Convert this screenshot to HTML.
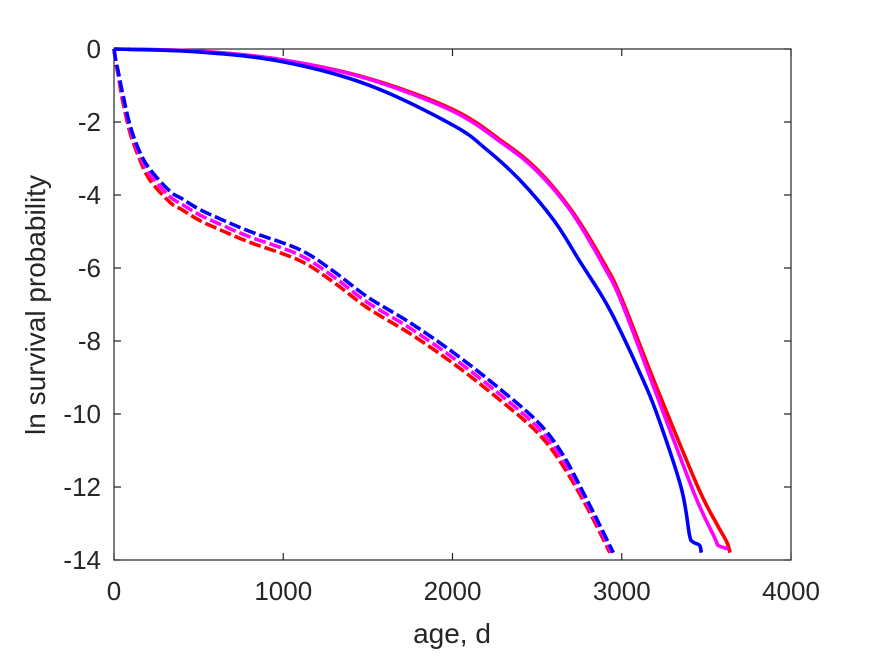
<!DOCTYPE html>
<html><head><meta charset="utf-8"><style>
body{margin:0;background:#fff;}
svg text{font-family:"Liberation Sans",sans-serif;fill:#262626;}
</style></head><body>
<svg width="875" height="656" viewBox="0 0 875 656">
<rect width="875" height="656" fill="#fff"/>
<g id="axes"></g>
<g id="series"></g>
<text x="452" y="643" font-size="28" text-anchor="middle">age, d</text>
<text transform="translate(45,305) rotate(-90)" font-size="28" text-anchor="middle">ln survival probability</text>
</svg>
<script>
const xTicks=[0,1000,2000,3000,4000];
const yTicks=[0,-2,-4,-6,-8,-10,-12,-14];
const blueSolidX=[0,500,1000,1500,2000,2200,2400,2600,2750,2900,3000,3100,3200,3350,3400,3420,3460,3470];
const blueSolidY=[0,-0.08,-0.35,-0.98,-2.08,-2.75,-3.6,-4.7,-5.8,-6.9,-7.8,-8.8,-9.9,-12.0,-13.3,-13.5,-13.6,-13.8];
const redSolidX=[0,500,1000,1500,2000,2300,2500,2700,2900,3000,3200,3450,3560,3620,3640];
const redSolidY=[0,-0.06,-0.3,-0.8,-1.65,-2.55,-3.3,-4.4,-5.9,-6.85,-9.2,-12.0,-13.0,-13.5,-13.8];
const magSolidX=[0,500,1000,1500,2000,2300,2500,2700,2900,3000,3200,3430,3550,3570,3630];
const magSolidY=[0,-0.06,-0.3,-0.82,-1.7,-2.6,-3.35,-4.45,-6.0,-6.95,-9.4,-12.2,-13.4,-13.6,-13.7];
const blueDashX=[0,10,24,50,95,150,213,331,400,508,650,804,1099,1300,1500,1750,2000,2250,2500,2650,2800,2950];
const blueDashY=[0,-0.3,-0.6,-1.2,-2.1,-2.8,-3.3,-3.9,-4.1,-4.4,-4.7,-5.0,-5.5,-6.1,-6.8,-7.5,-8.3,-9.2,-10.2,-11.1,-12.4,-13.8];
const magDashX=[0,10,24,50,95,150,213,331,400,508,650,804,1099,1300,1500,1750,2000,2250,2500,2650,2800,2940];
const magDashY=[0,-0.32,-0.65,-1.3,-2.2,-2.9,-3.45,-4.05,-4.25,-4.55,-4.85,-5.15,-5.65,-6.25,-6.95,-7.65,-8.45,-9.35,-10.35,-11.25,-12.5,-13.8];
const redDashX=[0,10,24,50,95,150,213,331,400,508,650,804,1099,1300,1500,1750,2000,2250,2500,2650,2800,2930];
const redDashY=[0,-0.35,-0.7,-1.4,-2.3,-3.0,-3.6,-4.2,-4.4,-4.7,-5.0,-5.3,-5.8,-6.4,-7.1,-7.8,-8.6,-9.5,-10.5,-11.4,-12.6,-13.8];
const NS="http://www.w3.org/2000/svg";
const L=114,R=791,T=49,B=560;
const sx=v=>L+(v-0)/4000*(R-L);
const sy=v=>T+(0-v)/14*(B-T);
function mk(tag,attrs,parent){const e=document.createElementNS(NS,tag);for(const k in attrs)e.setAttribute(k,attrs[k]);parent.appendChild(e);return e;}
const ax=document.getElementById('axes');
const frame=mk('rect',{x:L,y:T,width:R-L,height:B-T,fill:'none',stroke:'#262626','stroke-width':1.2},ax);


xTicks.forEach(t=>{
  const x=sx(t);
  const l=mk('path',{d:`M${x},${B}v-7M${x},${T}v7`,stroke:'#262626','stroke-width':1.2},ax);
  
  
  const tx=mk('text',{x:x,y:B+40,'font-size':26,'text-anchor':'middle'},ax);tx.textContent=t;
  
  
});
yTicks.forEach(t=>{
  const y=sy(t);
  const l=mk('path',{d:`M${L},${y}h7M${R},${y}h-7`,stroke:'#262626','stroke-width':1.2},ax);
  
  
  const tx=mk('text',{x:L-13,y:y+9,'font-size':26,'text-anchor':'end'},ax);tx.textContent=t===0?'0':'-'+Math.abs(t);
  
  
});
const sg=document.getElementById('series');
function smooth(pts){
  let d='M'+pts[0][0].toFixed(1)+','+pts[0][1].toFixed(1);
  for(let i=0;i<pts.length-1;i++){
    const p0=pts[i-1]||pts[i],p1=pts[i],p2=pts[i+1],p3=pts[i+2]||p2;
    const c1=[p1[0]+(p2[0]-p0[0])/6,p1[1]+(p2[1]-p0[1])/6];
    const c2=[p2[0]-(p3[0]-p1[0])/6,p2[1]-(p3[1]-p1[1])/6];
    d+='C'+c1.map(v=>v.toFixed(1)).join(',')+' '+c2.map(v=>v.toFixed(1)).join(',')+' '+p2[0].toFixed(1)+','+p2[1].toFixed(1);
  }
  return d;
}
function line(xs,ys,color,dash,name){
  const pts=xs.map((v,i)=>[sx(v),sy(ys[i])]);
  const p=mk('path',{d:smooth(pts),fill:'none',stroke:color,'stroke-width':3.6,'stroke-linejoin':'round'},sg);
  if(dash)p.setAttribute('stroke-dasharray','12 4');
  
  
}
line(redDashX,redDashY,'#ff0000',true,'red-dashed-line');
line(magDashX,magDashY,'#ff00ff',true,'magenta-dashed-line');
line(blueDashX,blueDashY,'#0000ff',true,'blue-dashed-line');
line(redSolidX,redSolidY,'#ff0000',false,'red-solid-line');
line(magSolidX,magSolidY,'#ff00ff',false,'magenta-solid-line');
line(blueSolidX,blueSolidY,'#0000ff',false,'blue-solid-line');
</script>
</body></html>
